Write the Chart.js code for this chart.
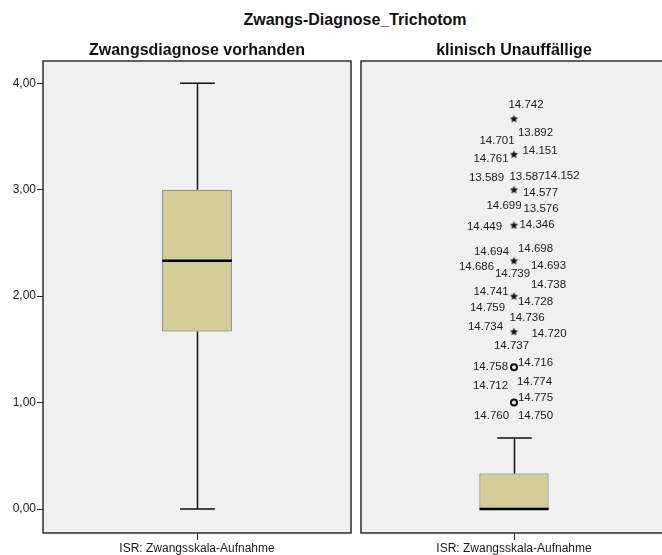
<!DOCTYPE html>
<html>
<head>
<meta charset="utf-8">
<script src="https://cdn.jsdelivr.net/npm/chart.js@4"></script>
<style>
  body { margin: 0; background: #fff; width: 662px; height: 555px; overflow: hidden; position: relative; }
  #mainTitle { position: absolute; left: 0; width: 710px; top: 11px; line-height: 20px; text-align: center;
    font: bold 16px "Liberation Sans", Arial, sans-serif; color: #111; }
  .panel { position: absolute; top: 0; height: 555px; }
</style>
</head>
<body>
<div id="mainTitle">Zwangs-Diagnose_Trichotom</div>
<div class="panel" style="left:0;width:355px"><canvas id="leftPanel" width="355" height="555"></canvas></div>
<div class="panel" style="left:355px;width:320px"><canvas id="rightPanel" width="320" height="555"></canvas></div>
<script>
  // data
  const categories = ["ISR: Zwangsskala-Aufnahme"];
  const groups = ["Zwangsdiagnose vorhanden", "klinisch Unauffällige"];
  const boxMin = [0, 0];
  const boxQ1 = [1.667, 0];
  const boxMedian = [2.333, 0];
  const boxQ3 = [3, 0.333];
  const boxMax = [4, 0.667];
  const yTickValues = [0, 1, 2, 3, 4];

  // extreme values (stars) and outliers (circles) of "klinisch Unauffällige"
  const extremeValues = [3.667, 3.333, 3, 2.667, 2.333, 2, 1.667];
  const extremeCases = [
    ["14.742"],
    ["13.892", "14.701", "14.761", "14.151"],
    ["13.589", "13.587", "14.152", "14.577", "14.699", "13.576"],
    ["14.449", "14.346"],
    ["14.694", "14.698", "14.686", "14.739", "14.693"],
    ["14.738", "14.741", "14.728", "14.759"],
    ["14.736", "14.734", "14.720", "14.737"],
  ];
  const outlierValues = [1.333, 1];
  const outlierCases = [
    ["14.758", "14.716", "14.712", "14.774"],
    ["14.775", "14.760", "14.750"],
  ];

  // where each case label sits around its point (px)
  const extremeLabelOffsets = [
    [[12, -13.5]],
    [[21.5, -21], [-17, -13], [-23, 5], [26, -3]],
    [[-27.5, -11.5], [13, -12.5], [48, -13.5], [26.5, 3], [-10, 16.5], [27, 19.5]],
    [[-29.5, 2], [23, 0]],
    [[-22.5, -8.5], [21.5, -12], [-37.5, 6.5], [-1.5, 13.5], [34.5, 5.5]],
    [[34.5, -11], [-23, -4.5], [21.5, 5.5], [-26.5, 12]],
    [[13, -14], [-28.5, -4.5], [35, 2.5], [-2.5, 14.5]],
  ];
  const outlierLabelOffsets = [
    [[-23.5, -0.5], [21.5, -4.5], [-23.5, 18.5], [20.5, 14.5]],
    [[21.5, -4.5], [-22.5, 13], [21.5, 13]],
  ];

  const yMin = -0.2255;
  const yMax = 4.2095;
  const textColor = "#1a1a1a";
  const labelFont = '11.5px "Liberation Sans", Arial, sans-serif';

  Chart.defaults.font.family = '"Liberation Sans", Arial, sans-serif';
  Chart.defaults.color = textColor;

  // small filled star like the SPSS extreme marker
  const starImg = document.createElement("canvas");
  starImg.width = 9;
  starImg.height = 9;
  (function () {
    const c = starImg.getContext("2d");
    c.fillStyle = "#111";
    c.beginPath();
    for (let k = 0; k < 10; k++) {
      const r = k % 2 === 0 ? 4.4 : 1.9;
      const a = -Math.PI / 2 + (k * Math.PI) / 5;
      const px = 4.5 + r * Math.cos(a);
      const py = 4.8 + r * Math.sin(a);
      k === 0 ? c.moveTo(px, py) : c.lineTo(px, py);
    }
    c.closePath();
    c.fill();
  })();

  const panelPlugin = {
    id: "panelFrame",
    beforeDraw(chart) {
      const a = chart.chartArea;
      const ctx = chart.ctx;
      ctx.save();
      ctx.fillStyle = "#f0f0f0";
      ctx.fillRect(a.left, a.top, a.right - a.left, a.bottom - a.top);
      ctx.restore();
    },
    beforeDatasetsDraw(chart) {
      const a = chart.chartArea;
      const ctx = chart.ctx;
      ctx.save();
      ctx.strokeStyle = "#2e2e2e";
      ctx.lineWidth = 1.5;
      ctx.strokeRect(a.left, a.top, a.right - a.left, a.bottom - a.top);
      ctx.restore();
    },
  };

  const boxPlugin = {
    id: "boxWhiskers",
    afterDatasetsDraw(chart, args, opts) {
      const g = opts.group;
      const bar = chart.getDatasetMeta(0).data[0];
      const ys = chart.scales.y;
      const ctx = chart.ctx;
      const x = Math.round(bar.x) + 0.5;
      const half = bar.width / 2;
      const capHalf = bar.width / 4;
      const seg = (x1, y1, x2, y2) => {
        ctx.beginPath();
        ctx.moveTo(x1, y1);
        ctx.lineTo(x2, y2);
        ctx.stroke();
      };
      ctx.save();
      ctx.strokeStyle = "#111";
      ctx.lineWidth = 1.5;
      const yQ3 = ys.getPixelForValue(boxQ3[g]);
      const yMaxPx = ys.getPixelForValue(boxMax[g]);
      const yQ1 = ys.getPixelForValue(boxQ1[g]);
      const yMinPx = ys.getPixelForValue(boxMin[g]);
      seg(x, yQ3, x, yMaxPx);
      seg(x - capHalf, yMaxPx, x + capHalf, yMaxPx);
      if (boxMin[g] < boxQ1[g]) {
        seg(x, yQ1, x, yMinPx);
        seg(x - capHalf, yMinPx, x + capHalf, yMinPx);
      }
      ctx.strokeStyle = "#000";
      ctx.lineWidth = 2.5;
      const yMed = ys.getPixelForValue(boxMedian[g]);
      seg(bar.x - half, yMed, bar.x + half, yMed);
      ctx.restore();
    },
  };

  const caseLabelPlugin = {
    id: "caseLabels",
    afterDatasetsDraw(chart) {
      const ctx = chart.ctx;
      ctx.save();
      ctx.font = labelFont;
      ctx.fillStyle = textColor;
      ctx.textAlign = "center";
      ctx.textBaseline = "middle";
      chart.data.datasets.forEach((ds, di) => {
        if (!ds.cases) return;
        chart.getDatasetMeta(di).data.forEach((pt, i) => {
          ds.cases[i].forEach((txt, j) => {
            const off = ds.offsets[i][j];
            ctx.fillText(txt, pt.x + off[0], pt.y + off[1]);
          });
        });
      });
      ctx.restore();
    },
  };

  function makePanel(canvasId, g, showY, padding) {
    const datasets = [
      {
        type: "bar",
        data: [[boxQ1[g], boxQ3[g]]],
        backgroundColor: "#d3ce97",
        borderColor: "#5e5e5e",
        borderWidth: 1,
        borderSkipped: false,
        barPercentage: 0.226,
        categoryPercentage: 1,
      },
    ];
    if (g === 1) {
      datasets.push({
        type: "line",
        showLine: false,
        data: extremeValues.map((v) => ({ x: categories[0], y: v })),
        pointStyle: starImg,
        pointRadius: 4,
        cases: extremeCases,
        offsets: extremeLabelOffsets,
      });
      datasets.push({
        type: "line",
        showLine: false,
        data: outlierValues.map((v) => ({ x: categories[0], y: v })),
        pointStyle: "circle",
        pointRadius: 3,
        borderWidth: 2,
        borderColor: "#111",
        backgroundColor: "rgba(0,0,0,0)",
        cases: outlierCases,
        offsets: outlierLabelOffsets,
      });
    }

    return new Chart(document.getElementById(canvasId), {
      type: "bar",
      data: { labels: categories, datasets: datasets },
      options: {
        responsive: false,
        animation: false,
        layout: { padding: padding },
        plugins: {
          legend: { display: false },
          tooltip: { enabled: false },
          title: {
            display: true,
            text: groups[g],
            fullSize: false,
            color: "#111",
            font: { size: 16, weight: "bold", lineHeight: 1.2 },
            padding: { top: 41, bottom: 0.8 },
          },
          boxWhiskers: { group: g },
        },
        scales: {
          x: {
            offset: true,
            border: { display: false },
            grid: { offset: false, drawOnChartArea: false, tickLength: 7, color: "#222" },
            ticks: { font: { size: 12 }, padding: 1, color: textColor },
            afterFit: (s) => { s.height = 22; },
          },
          y: {
            display: showY,
            min: yMin,
            max: yMax,
            border: { display: false },
            grid: { drawOnChartArea: false, tickLength: 6, color: "#222" },
            ticks: {
              font: { size: 12 },
              padding: 1,
              color: textColor,
              callback: (v) => Number(v).toFixed(2).replace(".", ","),
            },
            afterBuildTicks: (s) => { s.ticks = yTickValues.map((v) => ({ value: v })); },
            afterFit: (s) => { s.width = showY ? 43 : 0; },
          },
        },
      },
      plugins: [panelPlugin, boxPlugin, caseLabelPlugin],
    });
  }

  makePanel("leftPanel", 0, true, { left: 0, right: 4, top: 0, bottom: 0 });
  makePanel("rightPanel", 1, false, { left: 4, right: 8, top: 0, bottom: 0 });
</script>
</body>
</html>
